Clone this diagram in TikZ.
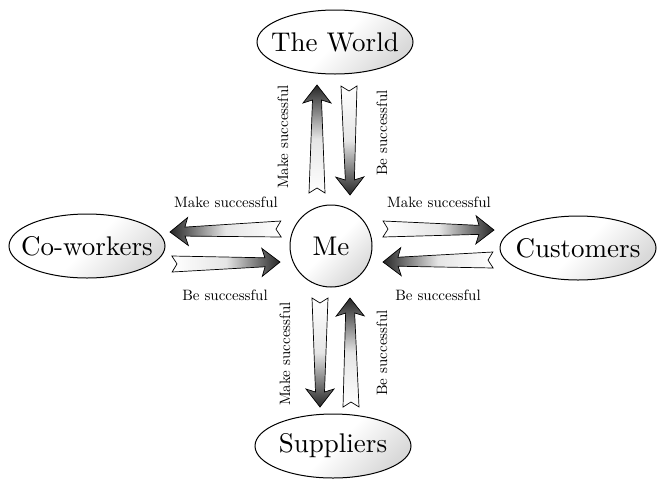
\documentclass[tikz,border=0pt]{standalone}
\usepackage{fontspec}
\setmainfont{lmroman10-regular.otf}
\usetikzlibrary{shapes.geometric,calc}

% dimensions of the tapered arrows
\def\arTw{8pt}   % half width of the tail
\def\arSw{4.5pt} % half width of the shaft at the head
\def\arHw{14pt}  % half width of the head
\def\arHl{15pt}  % head length at the shaft
\def\arBl{18pt}  % head length at the barbs
\def\arNd{5pt}   % depth of the notch in the tail

% tapered arrow with notched tail: #1 tail, #2 tip, #3 shading options
\newcommand\fatarrow[3]{%
  \path[arrowbody,#3]
    ($(#1)!\arTw!90:(#2)$)
    -- ($($(#2)!\arHl!(#1)$)!\arSw!90:(#2)$)
    -- ($($(#2)!\arBl!(#1)$)!\arHw!90:(#2)$)
    -- (#2)
    -- ($($(#2)!\arBl!(#1)$)!\arHw!-90:(#2)$)
    -- ($($(#2)!\arHl!(#1)$)!\arSw!-90:(#2)$)
    -- ($(#1)!\arTw!-90:(#2)$)
    -- ($(#1)!\arNd!(#2)$)
    -- cycle;}

% centred text that does not widen its shape
\newcommand\fixedw[1]{\makebox[0pt]{#1}}

\tikzset{
  place/.style={ellipse, draw, line width=1pt, minimum width=156pt,
    minimum height=64pt, inner sep=0pt, font=\fontsize{27}{29}\selectfont,
    top color=white, bottom color=gray!30, middle color=white, shading angle=45},
  hub/.style={circle, draw, line width=1pt, minimum size=82pt, inner sep=0pt,
    font=\fontsize{27}{29}\selectfont,
    top color=white, bottom color=gray!30, middle color=white, shading angle=45},
  arrowbody/.style={draw=black, line width=0.7pt, line join=miter},
  goup/.style={top color=black!85, bottom color=white, middle color=gray!20},
  godown/.style={top color=white, bottom color=black!85, middle color=gray!20},
  goleft/.style={left color=black!85, right color=white, middle color=gray!20},
  goright/.style={left color=white, right color=black!85, middle color=gray!20},
  lbl/.style={inner sep=0pt, font=\fontsize{15}{17}\selectfont},
}

\begin{document}
\begin{tikzpicture}[x=1pt, y=-1pt]
  \useasboundingbox (0,0) rectangle (661,480);

  % people and places
  \node[place] (world)  at (335,42)  {\fixedw{The World}};
  \node[place] (cowork) at (87,246)  {\fixedw{Co-workers}};
  \node[place] (cust)   at (578,248) {\fixedw{Customers}};
  \node[place] (supp)   at (333,446) {\fixedw{Suppliers}};
  \node[hub]   (me)     at (331,246) {Me};

  % arrow ends
  \coordinate (tUpT) at (317,193); \coordinate (tUpH) at (317,85);
  \coordinate (tDnT) at (349,86);  \coordinate (tDnH) at (350,195);
  \coordinate (lLfT) at (281,229); \coordinate (lLfH) at (170,232);
  \coordinate (lRtT) at (172,264); \coordinate (lRtH) at (280,262);
  \coordinate (rRtT) at (383,229); \coordinate (rRtH) at (494,230);
  \coordinate (rLfT) at (493,260); \coordinate (rLfH) at (383,262);
  \coordinate (bDnT) at (320,298); \coordinate (bDnH) at (320,407);
  \coordinate (bUpT) at (351,407); \coordinate (bUpH) at (350,298);

  % Me <-> The World
  \fatarrow{tUpT}{tUpH}{goup}
  \fatarrow{tDnT}{tDnH}{godown}
  % Me <-> Co-workers
  \fatarrow{lLfT}{lLfH}{goleft}
  \fatarrow{lRtT}{lRtH}{goright}
  % Me <-> Customers
  \fatarrow{rRtT}{rRtH}{goright}
  \fatarrow{rLfT}{rLfH}{goleft}
  % Me <-> Suppliers
  \fatarrow{bDnT}{bDnH}{godown}
  \fatarrow{bUpT}{bUpH}{goup}

  % labels
  \node[lbl, rotate=90] (lt1) at (283,137) {Make successful};
  \node[lbl, rotate=90] (lt2) at (382,133) {Be successful};
  \node[lbl] (ll1) at (226,202) {Make successful};
  \node[lbl] (ll2) at (225,295) {Be successful};
  \node[lbl] (lr1) at (439,202) {Make successful};
  \node[lbl] (lr2) at (438,295) {Be successful};
  \node[lbl, rotate=90] (lb1) at (285,354) {Make successful};
  \node[lbl, rotate=90] (lb2) at (382,353) {Be successful};
\end{tikzpicture}
\end{document}
